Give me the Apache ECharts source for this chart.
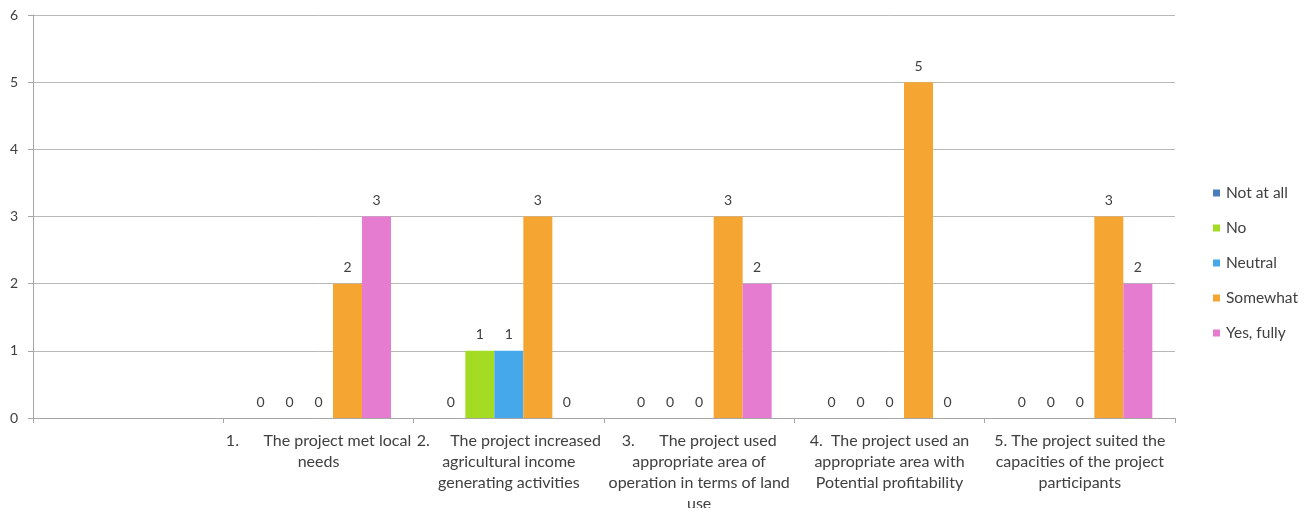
<!DOCTYPE html>
<html>
<head>
<meta charset="utf-8">
<script src="https://cdn.jsdelivr.net/npm/echarts@6/dist/echarts.min.js"></script>
<style>
  html, body { margin: 0; padding: 0; background: #fff; }
  #chart { width: 1308px; height: 508px; }
</style>
</head>
<body>
<div id="chart"></div>
<script>
// categories (first one is an empty slot, as in the original sheet)
var categories = [
  "",
  "1.      The project met local\nneeds",
  "2.     The project increased\nagricultural income\ngenerating activities",
  "3.      The project used\nappropriate area of\noperation in terms of land\nuse",
  "4.  The project used an\nappropriate area with\nPotential profitability",
  "5. The project suited the\ncapacities of the project\nparticipants"
];

var seriesNames = ["Not at all", "No", "Neutral", "Somewhat", "Yes, fully"];
var seriesColors = ["#4a7ebb", "#a3dc22", "#45a8ea", "#f4a532", "#e67ccf"];

var notAtAll = [null, 0, 0, 0, 0, 0];
var no = [null, 0, 1, 0, 0, 0];
var neutral = [null, 0, 1, 0, 0, 0];
var somewhat = [null, 2, 3, 3, 5, 3];
var yesFully = [null, 3, 0, 2, 0, 2];

var yTicks = [0, 1, 2, 3, 4, 5, 6];

var allValues = [notAtAll, no, neutral, somewhat, yesFully];

var series = [];
for (var i = 0; i < seriesNames.length; i++) {
  series.push({
    name: seriesNames[i],
    type: "bar",
    data: allValues[i],
    barWidth: 29,
    barGap: "0%",
    itemStyle: { color: seriesColors[i] },
    label: {
      show: true,
      position: "top",
      distance: 9,
      color: "#404040",
      fontFamily: "Lato",
      fontSize: 14
    }
  });
}

var option = {
  animation: false,
  backgroundColor: "#fff",
  textStyle: { fontFamily: "Lato" },
  // labels may run off the bottom like in the original, so don't let the grid shrink
  grid: { left: 33, right: 133, top: 15, bottom: 90, containLabel: false, outerBoundsMode: "none" },
  legend: {
    orient: "vertical",
    left: 1208,
    top: 180,
    itemWidth: 7,
    itemHeight: 7,
    itemGap: 19,
    icon: "rect",
    data: seriesNames,
    textStyle: { color: "#404040", fontSize: 15.5, fontFamily: "Lato", padding: [0, 0, 0, 1] }
  },
  xAxis: {
    type: "category",
    data: categories,
    axisLine: { lineStyle: { color: "#a6a6a6", width: 1 } },
    axisTick: { show: true, length: 5, lineStyle: { color: "#a6a6a6" } },
    axisLabel: {
      interval: 0,
      margin: 12,
      color: "#404040",
      fontSize: 16,
      lineHeight: 21,
      fontFamily: "Lato"
    }
  },
  yAxis: {
    type: "value",
    min: yTicks[0],
    max: yTicks[yTicks.length - 1],
    interval: 1,
    axisLine: { show: true, lineStyle: { color: "#a6a6a6" } },
    axisTick: { show: true, length: 5, lineStyle: { color: "#a6a6a6" } },
    splitLine: { lineStyle: { color: "#b8b8b8", width: 1 } },
    axisLabel: { color: "#404040", fontSize: 14, margin: 15, fontFamily: "Lato" }
  },
  series: series
};

var chart = echarts.init(document.getElementById("chart"));
chart.setOption(option);
</script>
</body>
</html>
